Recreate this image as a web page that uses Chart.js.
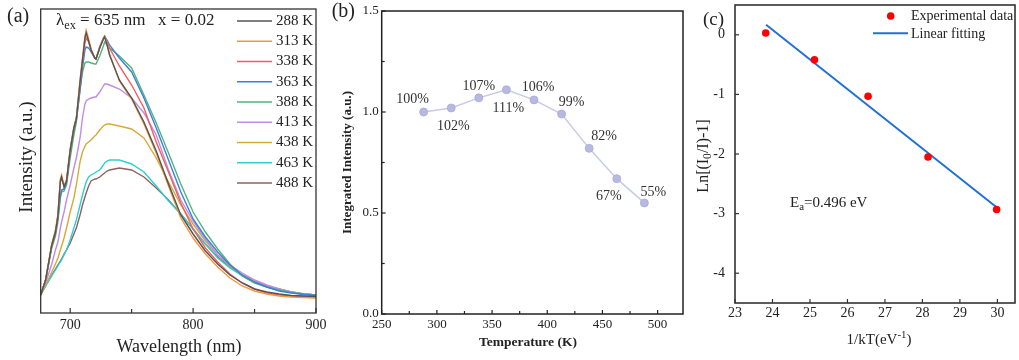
<!DOCTYPE html>
<html><head><meta charset="utf-8">
<script src="https://cdn.jsdelivr.net/npm/chart.js@4.4.1/dist/chart.umd.min.js"></script>
<style>
html,body{margin:0;padding:0;background:#fff;width:1019px;height:360px;overflow:hidden}
canvas{position:absolute;top:0}
</style></head><body>
<canvas id="ca" width="330" height="360" style="left:0px"></canvas>
<canvas id="cb" width="360" height="360" style="left:330px"></canvas>
<canvas id="cc" width="339" height="360" style="left:680px"></canvas>
<script>
// ---------- Panel (a) data ----------
const wavelengths = [676,680,685,688,690,692,693,695,697,700,703,705,708,710,712,713,715,717,720,721,724,727,728,730,732,740,750,760,770,780,790,800,810,820,830,840,850,860,870,880,890,900];
const tempLabels = ['288 K','313 K','338 K','363 K','388 K','413 K','438 K','463 K','488 K'];
const s288 = [18,33,68,81,97,132,136,126,132,163,185,194,231,253,275,280,272,263,255,254,265,274,276,268,258,233,215,191,162,129,98,79,62,49,38,30,24,21,19,17.5,17,16.5];
const s313 = [18,33,69,83,99,134,138,127,133,164,186,195,233,255,277,283,274,264,255,254,266,275,277,269,259,232,214,189,160,127,95,75,59,46,35,27,22,19,17,16,15.5,15];
const s338 = [18,33,68,81,97,131,135,127,132,163,185,195,228,251,270,275,271,263,255,254,265,274,276,271,265,247,228,205,171,141,110,84,65,51,39,30,24,20,18,17,16.5,16];
const s363 = [18,33,67,80,95,118,123,124,130,161,183,193,223,245,263,266,265,261,255,254,266,275,277,273,268,255,241,215,185,153,121,94,76,61,48,38,31,26,22,20,18.5,17.5];
const s388 = [18,33,65,77,91,115,121,122,128,155,178,191,223,241,250,251,251,250,249,249,257,267,271,268,265,257,245,218,190,160,129,101,81,64,49,37,30,26,23,20.5,19,18];
const s413 = [18,30,49,63,71,85,91,101,113,128,145,155,175,195,209,212,214,215,216,216,221,227,229,229,228,224,215,200,178,143,113,92,74,58,48,40,33,28,24,21,19,18];
const s438 = [18,28,41,49,55,63,67,75,85,101,115,128,151,161,167,169,171,173,177,178,183,187,188,189,189,187,184,175,155,131,108,89,72,58,47,38,32,27,23.5,21,19,18];
const s463 = [18,27,37,43,47,51,53,58,63,73,85,93,108,118,127,131,136,138,140,141,143,148,150,152,153,153,149,141,127,112,99,84,69,55,45,37,31,26,23,21,19,18];
const s488 = [18,27,38,44,48,52,54,59,63,70,79,85,98,108,116,120,127,132,134,134,136,139,140,142,143,145,143,136,125,113,99,84,69,56,46,38,32,27,24,21,19,18];
const wlTicks = [700,750,800,850,900];

// ---------- Panel (b) data ----------
const temperatures = [288,313,338,363,388,413,438,463,488];
const integrated = [1.00,1.02,1.07,1.11,1.06,0.99,0.82,0.67,0.55];
const pctLabels = ['100%','102%','107%','111%','106%','99%','82%','67%','55%'];
const tempTicks = [250,275,300,325,350,375,400,425,450,475,500];
const intTicks = [0,0.25,0.5,0.75,1.0,1.25,1.5];

// ---------- Panel (c) data ----------
const invKT = [23.82,25.12,26.55,28.15,29.98];
const lnRatio = [0.03,-0.42,-1.03,-2.05,-2.93];
const fitX = [23.83,29.97];
const fitY = [0.17,-2.89];
const kTicks = [23,24,25,26,27,28,29,30];
const lnTicks = [-4,-3,-2,-1,0];

const seriesA = [s288,s313,s338,s363,s388,s413,s438,s463,s488];
const colorsA = ['#555555','#f7963c','#f25e5e','#3b7fdc','#4fb47f','#c18be8','#d6aa3a','#2fcfd0','#8e6262'];

const SERIF = '"Liberation Serif", "Times New Roman", serif';

function fixScale(size) {
  return function (scale) {
    if (scale.isHorizontal()) scale.height = size; else scale.width = size;
    scale.paddingLeft = 0; scale.paddingRight = 0; scale.paddingTop = 0; scale.paddingBottom = 0;
  };
}
function setTicks(list) { return function (scale) { scale.ticks = list.map(v => ({ value: v })); }; }

function richText(ctx, parts, x, y, size, opts) {
  opts = opts || {};
  ctx.save();
  ctx.translate(x, y);
  if (opts.rotate) ctx.rotate(opts.rotate);
  const w = opts.weight || 'normal';
  const segs = parts.map(p => {
    const s = (p.sub || p.sup) ? size * 0.72 : size;
    const font = w + ' ' + s + 'px ' + SERIF;
    ctx.font = font;
    return { text: p.t, font: font, width: ctx.measureText(p.t).width, dy: p.sub ? size * 0.3 : (p.sup ? -size * 0.33 : 0) };
  });
  const total = segs.reduce((a, s) => a + s.width, 0);
  let cx = opts.align === 'center' ? -total / 2 : (opts.align === 'right' ? -total : 0);
  ctx.textBaseline = 'middle';
  ctx.textAlign = 'left';
  ctx.fillStyle = opts.color || '#222';
  segs.forEach(s => { ctx.font = s.font; ctx.fillText(s.text, cx, s.dy); cx += s.width; });
  ctx.restore();
}

function framePlugin(cfg) {
  return {
    id: 'frame',
    afterDatasetsDraw(chart) {
      const ctx = chart.ctx, ca = chart.chartArea;
      ctx.save();
      ctx.strokeStyle = cfg.color; ctx.lineWidth = cfg.width;
      ctx.strokeRect(ca.left, ca.top, ca.right - ca.left, ca.bottom - ca.top);
      ctx.lineWidth = 1.2;
      cfg.axes.forEach(id => {
        const s = chart.scales[id];
        s.ticks.forEach(t => {
          const p = s.getPixelForValue(t.value);
          const len = (t.label !== '' && t.label !== undefined) ? cfg.major : cfg.minor;
          ctx.beginPath();
          if (id === 'x') { ctx.moveTo(p, ca.bottom); ctx.lineTo(p, ca.bottom - len); }
          else { ctx.moveTo(ca.left, p); ctx.lineTo(ca.left + len, p); }
          ctx.stroke();
        });
      });
      ctx.restore();
      if (cfg.extra) cfg.extra(chart, ctx);
    }
  };
}

const baseOpts = {
  responsive: false, animation: false, events: [],
  plugins: { legend: { display: false }, tooltip: { enabled: false } }
};

// ---------- Chart (a) ----------
new Chart(document.getElementById('ca'), {
  type: 'line',
  data: {
    datasets: seriesA.map((s, i) => ({
      label: tempLabels[i],
      data: wavelengths.map((w, j) => ({ x: w, y: s[j] })),
      borderColor: colorsA[i], borderWidth: 1.4, pointRadius: 0, tension: 0, fill: false
    }))
  },
  options: Object.assign({}, baseOpts, {
    layout: { padding: { left: 0, top: 9, right: 14, bottom: 0 } },
    scales: {
      x: {
        type: 'linear', min: 676, max: 900, afterBuildTicks: setTicks(wlTicks),
        ticks: { callback: v => (v % 100 === 0 ? String(v) : ''), font: { family: SERIF, size: 14 }, color: '#222', padding: 4, maxRotation: 0, autoSkip: false },
        grid: { display: false, drawTicks: false }, border: { display: false }, afterFit: fixScale(47)
      },
      y: {
        type: 'linear', min: 0, max: 304, ticks: { display: false },
        grid: { display: false, drawTicks: false }, border: { display: false }, afterFit: fixScale(40.7)
      }
    }
  }),
  plugins: [framePlugin({
    color: '#333', width: 1.3, axes: ['x'], major: 5, minor: 4,
    extra(chart, ctx) {
      richText(ctx, [{ t: '(a)' }], 7, 17, 20);
      richText(ctx, [{ t: 'λ' }, { t: 'ex', sub: true }, { t: ' = 635 nm   x = 0.02' }], 56, 21, 17);
      tempLabels.forEach((lab, i) => {
        const y = 21 + i * 20.25;
        ctx.save();
        ctx.strokeStyle = colorsA[i]; ctx.lineWidth = 1.6;
        ctx.beginPath(); ctx.moveTo(237, y); ctx.lineTo(272, y); ctx.stroke();
        ctx.restore();
        richText(ctx, [{ t: lab }], 276, y, 15);
      });
      richText(ctx, [{ t: 'Intensity (a.u.)' }], 27, 157, 19, { align: 'center', rotate: -Math.PI / 2 });
      richText(ctx, [{ t: 'Wavelength (nm)' }], 179, 347, 18, { align: 'center' });
    }
  })]
});

// ---------- Chart (b) ----------
const labelOffsets = [[-11, -13], [2, 18], [0, -12], [2, 19], [4, -13], [10, -12], [15, -12], [-8, 18], [9, -11]];
new Chart(document.getElementById('cb'), {
  type: 'line',
  data: {
    datasets: [{
      data: temperatures.map((t, i) => ({ x: t, y: integrated[i] })),
      borderColor: '#c9c9e8', borderWidth: 1.5, tension: 0,
      pointRadius: 4, pointBackgroundColor: '#b8b9e0', pointBorderColor: '#a9aad6', pointBorderWidth: 0.8
    }]
  },
  options: Object.assign({}, baseOpts, {
    layout: { padding: { left: 0, top: 11, right: 7, bottom: 0 } },
    scales: {
      x: {
        type: 'linear', min: 250, max: 523, afterBuildTicks: setTicks(tempTicks),
        ticks: { callback: v => (v % 50 === 0 ? String(v) : ''), font: { family: SERIF, size: 13 }, color: '#222', padding: 3, maxRotation: 0, autoSkip: false },
        grid: { display: false, drawTicks: false }, border: { display: false }, afterFit: fixScale(46)
      },
      y: {
        type: 'linear', min: 0, max: 1.5, afterBuildTicks: setTicks(intTicks),
        ticks: { callback: v => (Math.abs(v * 2 - Math.round(v * 2)) < 1e-9 ? v.toFixed(1) : ''), font: { family: SERIF, size: 13 }, color: '#222', padding: 3, autoSkip: false },
        grid: { display: false, drawTicks: false }, border: { display: false }, afterFit: fixScale(51.7)
      }
    }
  }),
  plugins: [framePlugin({
    color: '#222', width: 1.5, axes: ['x', 'y'], major: 4, minor: 3,
    extra(chart, ctx) {
      const meta = chart.getDatasetMeta(0);
      meta.data.forEach((pt, i) => {
        richText(ctx, [{ t: pctLabels[i] }], pt.x + labelOffsets[i][0], pt.y + labelOffsets[i][1], 14, { align: 'center', color: '#333' });
      });
      richText(ctx, [{ t: '(b)' }], 1.7, 12, 20);
      richText(ctx, [{ t: 'Integrated Intensity (a.u.)' }], 17.3, 162.5, 13, { align: 'center', rotate: -Math.PI / 2, weight: 'bold' });
      richText(ctx, [{ t: 'Temperature (K)' }], 198, 343, 13.5, { align: 'center', weight: 'bold' });
    }
  })]
});

// ---------- Chart (c) ----------
new Chart(document.getElementById('cc'), {
  type: 'line',
  data: {
    datasets: [
      { data: invKT.map((x, i) => ({ x: x, y: lnRatio[i] })), showLine: false, pointRadius: 3.8, pointBackgroundColor: '#ff0000', pointBorderColor: '#ff0000', pointBorderWidth: 0 },
      { data: fitX.map((x, i) => ({ x: x, y: fitY[i] })), borderColor: '#2270d6', borderWidth: 2, pointRadius: 0, tension: 0 }
    ]
  },
  options: Object.assign({}, baseOpts, {
    layout: { padding: { left: 0, top: 5, right: 4, bottom: 0 } },
    scales: {
      x: {
        type: 'linear', min: 23, max: 30.47, afterBuildTicks: setTicks(kTicks),
        ticks: { callback: v => String(v), font: { family: SERIF, size: 14 }, color: '#222', padding: 2, maxRotation: 0, autoSkip: false },
        grid: { display: false, drawTicks: false }, border: { display: false }, afterFit: fixScale(57)
      },
      y: {
        type: 'linear', min: -4.5, max: 0.5, afterBuildTicks: setTicks(lnTicks),
        ticks: { callback: v => String(v), font: { family: SERIF, size: 14 }, color: '#222', padding: 10, autoSkip: false },
        grid: { display: false, drawTicks: false }, border: { display: false }, afterFit: fixScale(55)
      }
    }
  }),
  plugins: [framePlugin({
    color: '#333', width: 1.6, axes: ['x', 'y'], major: 4, minor: 3,
    extra(chart, ctx) {
      richText(ctx, [{ t: '(c)' }], 23, 20, 19);
      richText(ctx, [{ t: 'Ln[(I' }, { t: '0', sub: true }, { t: '/I)-1]' }], 23.3, 156, 16, { align: 'center', rotate: -Math.PI / 2 });
      richText(ctx, [{ t: '1/kT(eV' }, { t: '-1', sup: true }, { t: ')' }], 199, 340, 15, { align: 'center' });
      richText(ctx, [{ t: 'E' }, { t: 'a', sub: true }, { t: '=0.496 eV' }], 110, 203, 15);
      ctx.save();
      ctx.fillStyle = '#ff0000';
      ctx.beginPath(); ctx.arc(210.7, 16, 3.8, 0, Math.PI * 2); ctx.fill();
      ctx.strokeStyle = '#2270d6'; ctx.lineWidth = 2;
      ctx.beginPath(); ctx.moveTo(193, 33.3); ctx.lineTo(228, 33.3); ctx.stroke();
      ctx.restore();
      richText(ctx, [{ t: 'Experimental data' }], 231, 16, 14);
      richText(ctx, [{ t: 'Linear fitting' }], 231, 34, 14);
    }
  })]
});
</script>
</body></html>
